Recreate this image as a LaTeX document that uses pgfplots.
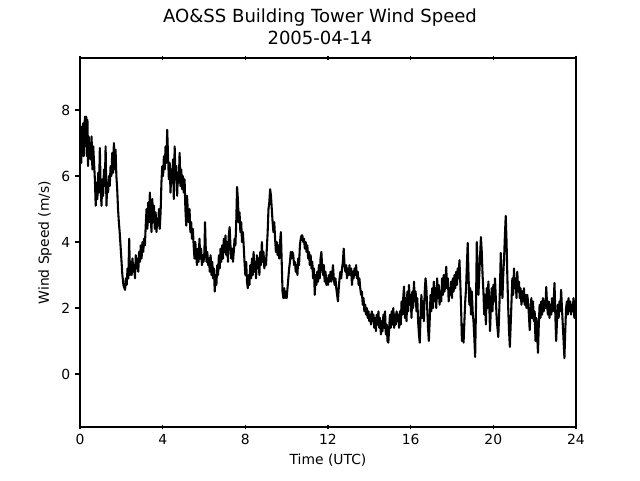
\documentclass[border=0pt]{standalone}
\usepackage{fontspec}
\setmainfont{DejaVu Sans}
\usepackage{pgfplots}
\pgfplotsset{compat=1.18}
\pgfplotstableread{
x y
0.00 6.8
0.03 7.3
0.06 6.4
0.09 7.5
0.12 6.9
0.15 7.6
0.18 6.6
0.21 7.4
0.24 7.8
0.27 6.9
0.30 7.8
0.33 6.6
0.36 7.7
0.39 6.3
0.42 7.2
0.45 6.7
0.48 7.0
0.52 6.5
0.56 7.2
0.60 6.2
0.64 6.9
0.68 6.4
0.72 5.9
0.76 5.1
0.80 5.8
0.84 5.3
0.88 6.1
0.92 5.5
0.96 6.85
1.00 5.6
1.04 5.1
1.08 5.9
1.12 5.4
1.16 6.2
1.20 5.7
1.24 6.9
1.28 5.1
1.32 5.8
1.36 5.5
1.40 6.0
1.44 5.7
1.48 6.3
1.52 6.0
1.56 6.7
1.60 6.1
1.64 7.0
1.68 6.2
1.72 6.8
1.76 6.0
1.80 5.6
1.84 5.0
1.88 4.6
1.92 4.3
1.96 3.9
2.00 3.5
2.05 3.0
2.10 2.7
2.15 2.6
2.18 2.55
2.22 2.9
2.26 2.7
2.30 3.2
2.34 2.9
2.38 4.1
2.42 3.0
2.46 3.4
2.50 3.0
2.54 3.5
2.58 3.1
2.62 3.3
2.66 2.9
2.70 3.6
2.74 3.2
2.78 3.5
2.82 3.1
2.86 3.7
2.90 3.4
2.94 3.9
2.98 3.5
3.02 4.0
3.06 3.7
3.10 4.1
3.14 3.9
3.18 4.5
3.22 5.0
3.26 4.4
3.30 5.2
3.34 4.6
3.38 5.5
3.42 4.8
3.46 4.3
3.50 5.3
3.54 4.6
3.58 5.1
3.62 4.4
3.66 4.9
3.70 4.3
3.74 4.7
3.78 4.5
3.82 5.0
3.86 4.4
3.90 4.9
3.94 5.8
3.98 6.3
4.02 6.0
4.06 6.6
4.10 6.2
4.14 6.9
4.18 6.4
4.22 7.4
4.26 6.6
4.30 5.9
4.34 6.4
4.38 5.5
4.42 6.2
4.46 5.8
4.50 6.5
4.54 5.3
4.58 6.9
4.62 5.9
4.66 6.3
4.70 5.4
4.74 6.1
4.78 5.8
4.82 6.7
4.86 5.7
4.90 6.2
4.94 5.6
4.98 6.0
5.02 5.5
5.06 5.9
5.10 5.0
5.14 4.5
5.18 5.4
5.22 4.9
5.26 4.6
5.30 5.0
5.34 4.3
5.38 4.6
5.42 4.1
5.46 4.4
5.50 3.9
5.54 3.5
5.58 4.0
5.62 3.6
5.66 3.3
5.70 3.8
5.74 3.4
5.78 4.1
5.82 3.5
5.86 3.8
5.90 3.3
5.94 3.6
5.98 3.4
6.02 3.7
6.05 4.6
6.08 3.9
6.12 3.4
6.16 3.7
6.20 3.3
6.24 3.5
6.28 3.1
6.32 3.6
6.36 3.0
6.40 3.4
6.44 2.9
6.48 3.2
6.52 2.5
6.56 3.0
6.60 2.7
6.64 3.3
6.68 3.0
6.72 3.6
6.76 3.2
6.80 3.8
6.84 3.4
6.88 3.9
6.92 3.5
6.96 4.1
7.00 3.7
7.04 4.2
7.08 3.6
7.12 4.0
7.16 3.4
7.20 4.2
7.24 4.45
7.28 3.9
7.32 3.5
7.36 3.8
7.40 3.4
7.44 3.7
7.48 4.1
7.52 3.9
7.56 4.6
7.60 5.67
7.64 5.3
7.68 4.6
7.72 4.9
7.76 4.3
7.80 4.6
7.84 4.0
7.88 4.3
7.92 3.9
7.96 3.4
8.00 3.0
8.04 3.4
8.08 2.8
8.12 2.6
8.16 3.0
8.20 2.7
8.24 3.3
8.28 2.9
8.32 3.5
8.36 3.0
8.40 3.7
8.44 3.1
8.48 3.4
8.52 2.9
8.56 3.6
8.60 3.2
8.64 3.5
8.68 3.0
8.72 3.7
8.76 3.3
8.80 4.0
8.84 3.4
8.88 3.7
8.92 3.2
8.96 3.5
9.00 3.3
9.04 3.8
9.08 4.3
9.12 5.0
9.16 5.2
9.20 5.6
9.24 5.4
9.28 5.0
9.32 4.6
9.36 4.3
9.40 4.6
9.44 4.1
9.48 3.7
9.52 4.0
9.56 3.6
9.60 3.9
9.64 3.5
9.68 4.0
9.72 4.3
9.76 3.4
9.80 2.5
9.84 2.3
9.88 2.6
9.92 2.3
9.96 2.5
10.00 2.3
10.04 2.6
10.08 2.9
10.12 3.2
10.16 3.4
10.20 3.7
10.24 3.5
10.28 3.7
10.32 3.6
10.36 3.3
10.40 3.4
10.44 3.1
10.48 3.3
10.52 3.0
10.56 3.5
10.60 3.3
10.64 3.9
10.68 4.1
10.72 4.2
10.76 4.2
10.80 4.0
10.84 4.1
10.88 3.8
10.92 4.0
10.96 3.7
11.00 3.9
11.04 3.5
11.08 3.7
11.12 3.3
11.16 3.6
11.20 3.2
11.24 3.4
11.28 2.9
11.32 3.2
11.36 2.4
11.40 3.0
11.44 2.7
11.48 3.1
11.52 2.8
11.56 3.3
11.60 2.9
11.64 3.5
11.68 3.7
11.72 3.2
11.76 3.0
11.80 3.3
11.84 2.8
11.88 3.1
11.92 2.7
11.96 2.9
12.00 2.7
12.04 3.0
12.08 2.8
12.12 3.1
12.16 2.8
12.20 3.0
12.24 3.3
12.28 2.9
12.32 2.7
12.36 2.9
12.40 2.6
12.44 2.4
12.48 2.2
12.52 2.6
12.56 2.9
12.60 3.1
12.64 2.9
12.68 3.2
12.72 3.4
12.76 3.8
12.80 3.3
12.84 3.1
12.88 3.3
12.92 2.9
12.96 3.2
13.00 3.0
13.04 3.3
13.08 3.0
13.12 3.2
13.16 2.7
13.20 3.1
13.24 2.9
13.28 3.2
13.32 3.0
13.36 3.3
13.40 2.9
13.44 3.1
13.48 2.7
13.52 2.9
13.56 2.6
13.60 2.4
13.64 2.5
13.68 2.1
13.72 2.3
13.76 1.9
13.80 2.1
13.84 1.8
13.88 2.0
13.92 1.7
13.96 1.9
14.00 1.6
14.04 1.8
14.08 1.5
14.12 1.9
14.16 1.6
14.20 1.8
14.24 1.4
14.28 1.7
14.32 1.3
14.36 1.8
14.40 1.5
14.44 1.9
14.48 1.4
14.52 1.7
14.56 1.2
14.60 1.6
14.64 1.3
14.68 1.8
14.72 1.4
14.76 1.9
14.80 1.2
14.84 1.5
14.88 1.0
14.92 0.95
14.96 1.4
15.00 1.8
15.04 1.4
15.08 1.9
15.12 1.5
15.16 2.0
15.20 1.4
15.24 1.8
15.28 1.5
15.32 1.9
15.36 1.6
15.40 1.8
15.44 1.4
15.48 1.9
15.52 1.5
15.56 2.2
15.60 1.8
15.64 2.3
15.68 2.65
15.72 1.7
15.76 2.3
15.80 1.6
15.84 2.5
15.88 1.9
15.92 2.7
15.96 2.1
16.00 2.4
16.04 1.7
16.08 2.5
16.12 2.0
16.16 2.8
16.20 2.2
16.24 2.5
16.28 1.9
16.32 2.3
16.36 1.6
16.40 1.2
16.44 0.95
16.48 1.8
16.52 2.4
16.56 1.7
16.60 2.2
16.64 1.6
16.68 2.5
16.72 2.9
16.76 2.6
16.80 2.0
16.84 1.4
16.88 1.0
16.92 1.6
16.96 2.4
17.00 1.9
17.04 2.6
17.08 2.0
17.12 2.8
17.16 2.2
17.20 2.6
17.24 2.0
17.28 2.9
17.32 2.3
17.36 2.7
17.40 2.1
17.44 2.5
17.48 2.2
17.52 2.9
17.56 2.4
17.60 3.0
17.64 2.5
17.68 2.8
17.72 3.25
17.76 2.6
17.80 2.9
17.84 2.2
17.88 2.6
17.92 2.4
17.96 2.8
18.00 2.3
18.04 2.9
18.08 2.5
18.12 3.0
18.16 2.6
18.20 3.1
18.24 2.7
18.28 3.2
18.32 2.9
18.36 3.45
18.40 2.8
18.44 2.0
18.48 1.0
18.52 1.5
18.56 0.95
18.60 1.6
18.64 2.2
18.68 2.6
18.72 3.3
18.76 3.97
18.80 3.0
18.84 2.1
18.88 2.6
18.92 1.8
18.96 2.5
19.00 1.9
19.04 1.6
19.08 1.1
19.12 0.52
19.16 2.0
19.20 4.0
19.24 3.2
19.28 2.4
19.32 3.0
19.36 3.6
19.40 4.15
19.44 3.7
19.48 3.0
19.52 2.5
19.56 1.8
19.60 2.4
19.64 1.5
19.68 2.6
19.72 2.0
19.76 2.8
19.80 2.2
19.84 1.3
19.88 2.0
19.92 2.6
19.96 1.9
20.00 2.7
20.04 2.2
20.08 2.9
20.12 2.3
20.16 1.7
20.20 1.4
20.24 1.12
20.28 1.8
20.32 2.6
20.36 3.67
20.40 2.8
20.44 2.3
20.48 3.0
20.52 3.5
20.56 4.2
20.60 4.79
20.64 4.0
20.68 2.9
20.72 2.0
20.76 1.3
20.80 0.82
20.84 1.5
20.88 2.2
20.92 2.9
20.96 2.4
21.00 3.2
21.04 2.6
21.08 2.9
21.12 2.3
21.16 3.1
21.20 2.5
21.24 2.8
21.28 2.3
21.32 2.6
21.36 2.1
21.40 2.5
21.44 2.2
21.48 2.6
21.52 2.1
21.56 2.4
21.60 2.0
21.64 2.4
21.68 2.2
21.72 1.8
21.76 1.33
21.80 1.9
21.84 2.3
21.88 1.7
21.92 2.2
21.96 1.6
22.00 1.9
22.04 1.0
22.08 1.7
22.12 1.2
22.16 0.64
22.20 1.5
22.24 2.1
22.28 1.7
22.32 2.2
22.36 1.8
22.40 2.3
22.44 1.9
22.48 2.2
22.52 2.0
22.56 2.64
22.60 2.1
22.64 1.8
22.68 2.2
22.72 1.7
22.76 2.1
22.80 1.8
22.84 2.3
22.88 1.9
22.92 2.2
22.96 2.76
23.00 1.8
23.04 1.0
23.08 1.6
23.12 2.1
23.16 1.7
23.20 2.2
23.24 1.9
23.28 2.55
23.32 2.0
23.36 1.5
23.40 1.0
23.44 0.48
23.48 1.3
23.52 2.0
23.56 2.2
23.60 1.8
23.64 2.3
23.68 1.9
23.72 2.2
23.76 1.8
23.80 2.1
23.84 1.9
23.88 2.3
23.92 1.7
23.96 2.2
24.00 2.1
}\wind
\begin{document}
\begin{tikzpicture}
\begin{axis}[
  scale only axis, width=357.1pt, height=265.7pt,
  xmin=0, xmax=24, ymin=-1.606, ymax=9.576,
  xtick={0,4,8,12,16,20,24}, ytick={0,2,4,6,8},
  xtick pos=both, ytick pos=left,
  xtick align=center, ytick align=outside,
  major tick length=3.5pt,
  tick style={line width=0.8pt, black},
  axis line style={line width=0.8pt},
  tick label style={font=\fontsize{10}{12}\selectfont},
  /pgf/number format/assume math mode=true,
  xlabel={Time (UTC)}, ylabel={Wind Speed (m/s)},
  label style={font=\fontsize{10}{12}\selectfont},
  title={AO\&SS Building Tower Wind Speed\\2005-04-14},
  title style={align=center, font=\fontsize{13}{15.6}\selectfont, xshift=-5.76pt},
]
\addplot[black, line width=1.5pt, line join=round] table[x=x, y=y] {\wind};
\end{axis}
\path ([shift={(-57.6pt,-38.16pt)}]current axis.south west) rectangle ([shift={(46.08pt,41.76pt)}]current axis.north east);
\end{tikzpicture}
\end{document}
